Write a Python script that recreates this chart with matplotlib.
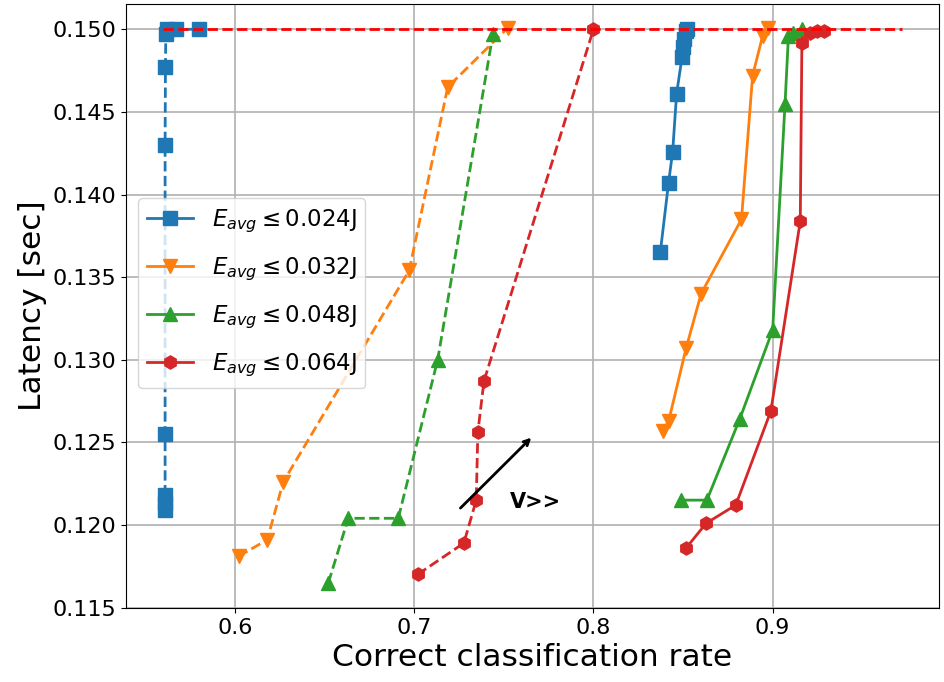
import matplotlib
matplotlib.use("Agg")
import matplotlib.pyplot as plt

# Solid series (labelled)
blue_x = [0.8373, 0.8419, 0.8442, 0.8464, 0.8494, 0.8500, 0.8507, 0.8517, 0.8520]
blue_y = [0.1365, 0.1407, 0.1426, 0.1461, 0.1483, 0.1489, 0.1494, 0.1499, 0.1500]
orange_x = [0.8386, 0.8420, 0.8517, 0.8601, 0.8826, 0.8888, 0.8944, 0.8976]
orange_y = [0.1257, 0.1263, 0.1307, 0.1340, 0.1385, 0.1472, 0.1496, 0.1501]
green_x = [0.8489, 0.8633, 0.8816, 0.9000, 0.9069, 0.9088, 0.9116, 0.9163]
green_y = [0.1215, 0.1215, 0.1264, 0.1318, 0.1455, 0.1496, 0.1498, 0.1500]
red_x = [0.8517, 0.8629, 0.8794, 0.8990, 0.9154, 0.9163, 0.9210, 0.9247, 0.9285]
red_y = [0.1186, 0.1201, 0.1212, 0.1269, 0.1384, 0.1492, 0.1498, 0.1499, 0.1499]

# Dashed series
blue_d_x = [0.5610, 0.5610, 0.5610, 0.5610, 0.5610, 0.5612, 0.5614, 0.5620, 0.5670, 0.5800]
blue_d_y = [0.1209, 0.1213, 0.1218, 0.1255, 0.1430, 0.1477, 0.1497, 0.1500, 0.1500, 0.1500]
orange_d_x = [0.6020, 0.6180, 0.6269, 0.6972, 0.7187, 0.7523]
orange_d_y = [0.1181, 0.1191, 0.1226, 0.1354, 0.1465, 0.1501]
green_d_x = [0.6521, 0.6632, 0.6911, 0.7131, 0.7439]
green_d_y = [0.1165, 0.1204, 0.1204, 0.1300, 0.1497]
red_d_x = [0.7019, 0.7277, 0.7346, 0.7355, 0.7389, 0.8000]
red_d_y = [0.1170, 0.1189, 0.1215, 0.1256, 0.1287, 0.1500]

labels = [r"$E_{avg} \leq 0.024$J", r"$E_{avg} \leq 0.032$J",
          r"$E_{avg} \leq 0.048$J", r"$E_{avg} \leq 0.064$J"]

latency_limit = 0.150
limit_x = [0.560, 0.972]

fig = plt.figure(figsize=(9.44, 6.82), dpi=100)
ax = fig.add_axes([0.1335, 0.1085, 0.8612, 0.8856])

ms = 9.5
ax.plot(blue_d_x, blue_d_y, '--s', color='C0', lw=2, ms=ms)
ax.plot(orange_d_x, orange_d_y, '--v', color='C1', lw=2, ms=ms)
ax.plot(green_d_x, green_d_y, '--^', color='C2', lw=2, ms=ms)
ax.plot(red_d_x, red_d_y, '--h', color='C3', lw=2, ms=ms)

ax.plot(blue_x, blue_y, '-s', color='C0', lw=2, ms=ms, label=labels[0])
ax.plot(orange_x, orange_y, '-v', color='C1', lw=2, ms=ms, label=labels[1])
ax.plot(green_x, green_y, '-^', color='C2', lw=2, ms=ms, label=labels[2])
ax.plot(red_x, red_y, '-h', color='C3', lw=2, ms=ms, label=labels[3])

ax.plot(limit_x, [latency_limit, latency_limit], 'r--', lw=2)

ax.annotate("", xy=(0.7664, 0.1254), xytext=(0.7247, 0.1209),
            arrowprops=dict(arrowstyle='->', color='black', lw=2))
ax.text(0.7533, 0.1214, "V>>", fontsize=15, fontweight='bold', va='center', ha='left')

ax.set_xlim(0.5392, 0.9928)
ax.set_ylim(0.11497, 0.15153)
ax.set_xticks([0.6, 0.7, 0.8, 0.9])
ax.set_yticks([0.115, 0.120, 0.125, 0.130, 0.135, 0.140, 0.145, 0.150])
ax.set_yticklabels(["0.115", "0.120", "0.125", "0.130", "0.135", "0.140", "0.145", "0.150"])
ax.tick_params(labelsize=16)
ax.grid(True, color='#b0b0b0', lw=1.2)
ax.set_axisbelow(True)
ax.set_xlabel("Correct classification rate", fontsize=22.5)
ax.set_ylabel("Latency [sec]", fontsize=22.5)
ax.legend(loc='center left', bbox_to_anchor=(0.015, 0.521), borderaxespad=0,
          fontsize=16.5, labelspacing=0.9)

fig.savefig("out.png", dpi=100)
